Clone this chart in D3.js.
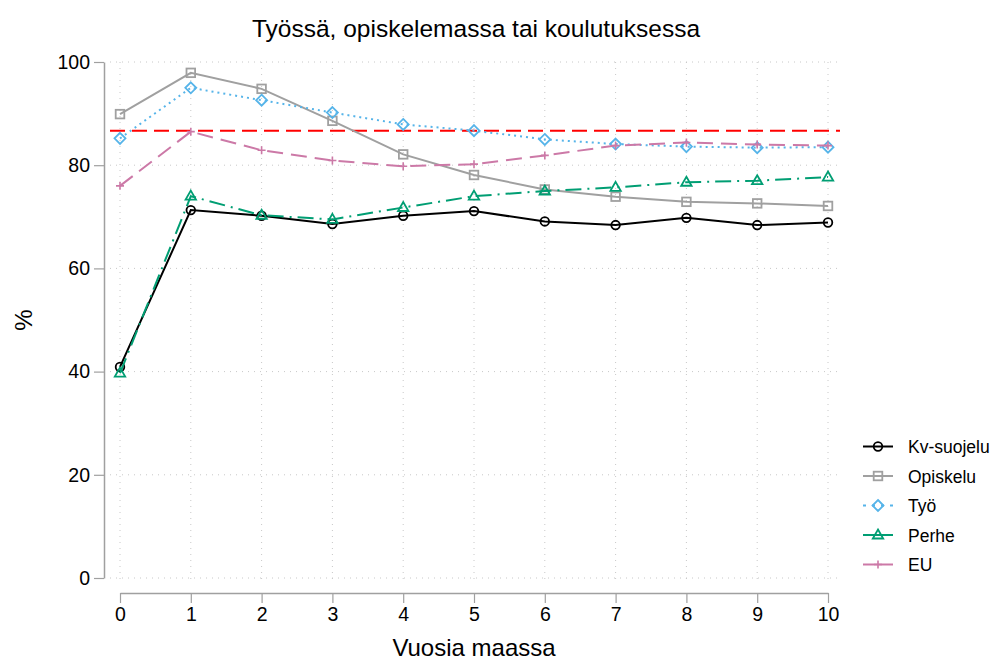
<!DOCTYPE html>
<html><head><meta charset="utf-8">
<script src="https://cdn.jsdelivr.net/npm/d3@7"></script>
<style>body{margin:0;background:#fff;} text{font-family:"Liberation Sans",Arial,sans-serif;}</style>
</head><body>
<svg id="c" width="1002" height="660"></svg>
<script>
const years = [0,1,2,3,4,5,6,7,8,9,10];
const kvSuojelu = [40.9,71.3,70.2,68.6,70.2,71.1,69.1,68.4,69.8,68.4,68.9];
const opiskelu  = [89.9,97.9,94.8,88.6,82.1,78.1,75.3,73.9,72.9,72.6,72.1];
const tyo       = [85.2,95.0,92.6,90.2,87.9,86.7,85.0,84.1,83.6,83.4,83.5];
const perhe     = [39.7,74.0,70.3,69.5,71.8,74.0,75.0,75.7,76.7,77.0,77.7];
const eu        = [76.0,86.5,82.9,80.9,79.8,80.2,81.9,83.8,84.4,84.0,83.8];
const refLine = 86.7;
const yTicks = [0,20,40,60,80,100];
const seriesNames = ["Kv-suojelu","Opiskelu","Työ","Perhe","EU"];

const series = [
  {name:seriesNames[0], values:kvSuojelu, color:"#000000", dash:null, marker:"circle"},
  {name:seriesNames[1], values:opiskelu, color:"#a0a0a0", dash:null, marker:"square"},
  {name:seriesNames[2], values:tyo, color:"#56b4e9", dash:"2,4", marker:"diamond"},
  {name:seriesNames[3], values:perhe, color:"#009e73", dash:"16,6,2,6", marker:"triangle"},
  {name:seriesNames[4], values:eu, color:"#cc79a7", dash:"16,8", marker:"plus"}
];

const svg = d3.select("#c");
const x = d3.scaleLinear().domain([0,10]).range([120,828]);
const y = d3.scaleLinear().domain([0,100]).range([578,62]);
const FF = "Liberation Sans, Arial, sans-serif";

// grid
const g = svg.append("g");
g.selectAll("line.hg").data(yTicks).enter().append("line")
  .attr("x1",110).attr("x2",840).attr("y1",d=>y(d)).attr("y2",d=>y(d))
  .attr("stroke","#c8c8c8").attr("stroke-width",1).attr("stroke-dasharray","1,5");
g.selectAll("line.vg").data(years).enter().append("line")
  .attr("y1",62).attr("y2",584).attr("x1",d=>x(d)).attr("x2",d=>x(d))
  .attr("stroke","#c8c8c8").attr("stroke-width",1).attr("stroke-dasharray","1,5");

// axes
const xAxis = svg.append("g").attr("transform","translate(0,593)")
  .call(d3.axisBottom(x).tickValues(years).tickSize(10).tickPadding(4).tickSizeOuter(0));
xAxis.select(".domain").attr("stroke","#a0a0a0").attr("stroke-width",1.5);
xAxis.selectAll(".tick line").attr("stroke","#a0a0a0").attr("stroke-width",1.2);
xAxis.selectAll("text").attr("font-size",19.5).attr("fill","#000").style("font-family",FF);

const yAxis = svg.append("g").attr("transform","translate(104,0)")
  .call(d3.axisLeft(y).tickValues(yTicks).tickSize(10).tickPadding(4).tickSizeOuter(0));
yAxis.select(".domain").attr("stroke","#a0a0a0").attr("stroke-width",1.5);
yAxis.selectAll(".tick line").attr("stroke","#a0a0a0").attr("stroke-width",1.2);
yAxis.selectAll("text").attr("font-size",19.5).attr("fill","#000").style("font-family",FF);

// reference line
svg.append("line").attr("x1",110).attr("x2",840).attr("y1",y(refLine)).attr("y2",y(refLine))
  .attr("stroke","#ff0000").attr("stroke-width",2).attr("stroke-dasharray","15,7");

const line = d3.line().x((d,i)=>x(years[i])).y(d=>y(d));

function marker(sel, type, color){
  if(type==="circle") sel.append("circle").attr("r",4.3).attr("fill","none").attr("stroke",color).attr("stroke-width",1.8);
  else if(type==="square") sel.append("rect").attr("x",-4.3).attr("y",-4.3).attr("width",8.6).attr("height",8.6).attr("fill","none").attr("stroke",color).attr("stroke-width",1.8);
  else if(type==="diamond") sel.append("path").attr("d","M0,-5.5L5.5,0L0,5.5L-5.5,0Z").attr("fill","none").attr("stroke",color).attr("stroke-width",1.8);
  else if(type==="triangle") sel.append("path").attr("d","M0,-5.5L5.2,3.5L-5.2,3.5Z").attr("fill","none").attr("stroke",color).attr("stroke-width",1.8);
  else if(type==="plus") sel.append("path").attr("d","M-4,0H4M0,-4V4").attr("fill","none").attr("stroke",color).attr("stroke-width",1.6);
}

series.forEach(s=>{
  svg.append("path").attr("d",line(s.values)).attr("fill","none").attr("stroke",s.color)
    .attr("stroke-width",2).attr("stroke-dasharray",s.dash);
  s.values.forEach((v,i)=>{
    const m = svg.append("g").attr("transform",`translate(${x(years[i])},${y(v)})`);
    marker(m,s.marker,s.color);
  });
});

// legend
const lg = svg.append("g");
series.forEach((s,i)=>{
  const yy = 446.5 + i*29.5;
  lg.append("line").attr("x1",863).attr("x2",893).attr("y1",yy).attr("y2",yy)
    .attr("stroke",s.color).attr("stroke-width",2).attr("stroke-dasharray",s.dash ? (s.marker==="diamond"?"3,6":null):null);
  const m = lg.append("g").attr("transform",`translate(878,${yy})`);
  marker(m,s.marker,s.color);
  lg.append("text").attr("x",908).attr("y",yy+6.5).attr("font-size",17.5).text(s.name);
});

// titles
svg.append("text").attr("x",476).attr("y",37).attr("text-anchor","middle").attr("font-size",24.5).text("Työssä, opiskelemassa tai koulutuksessa");
svg.append("text").attr("x",474).attr("y",656).attr("text-anchor","middle").attr("font-size",24).text("Vuosia maassa");
svg.append("text").attr("transform","translate(32,320) rotate(-90)").attr("text-anchor","middle").attr("font-size",24).text("%");
</script>
</body></html>
